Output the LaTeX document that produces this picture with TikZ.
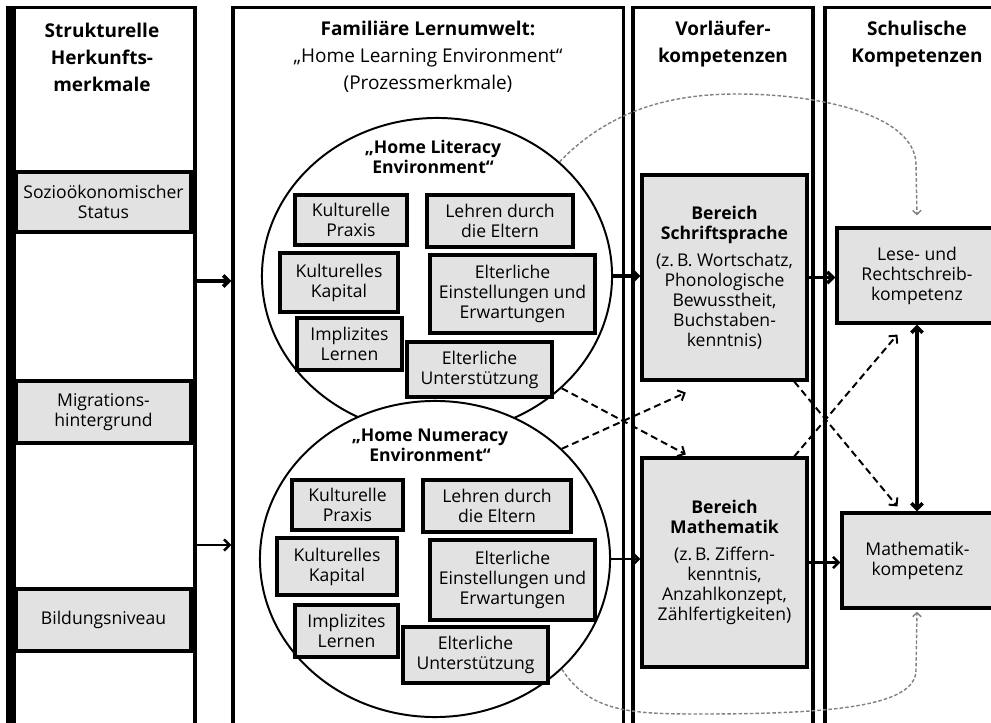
\documentclass[tikz,border=0pt]{standalone}
\usepackage{fontspec}
\setmainfont{Open Sans}
\usetikzlibrary{arrows.meta,shapes.geometric,calc}
\definecolor{boxgrey}{HTML}{E2E2E2}
\tikzset{
    column/.style={draw, line width=2.2pt, minimum width=#1, minimum height=18.3cm, inner sep=0pt},
    header/.style={align=center, font=\fontsize{13.5}{19.2}\selectfont},
    greybox/.style 2 args={draw, line width=2.2pt, fill=boxgrey, align=center, inner sep=0pt,
        minimum width=#1, minimum height=#2, font=\fontsize{12.5}{14.2}\selectfont},
    env/.style={draw, ellipse, line width=1.4pt, minimum width=8.75cm, minimum height=7.9cm, inner sep=0pt},
    envtitle/.style={align=center, font=\fontsize{12.5}{14.2}\selectfont\bfseries},
    mainarrow/.style={line width=2.6pt, -{Straight Barb[length=4pt,width=8pt]}},
    thinarrow/.style={line width=1.8pt, -{Straight Barb[length=4pt,width=8pt]}},
    crossarrow/.style={line width=1.4pt, dash pattern=on 5pt off 3pt, -{Straight Barb[length=4pt,width=8pt]}},
    linkarrow/.style={line width=1pt, gray, dash pattern=on 2.5pt off 1.5pt, -{Straight Barb[length=3pt,width=6pt]}}
}
\begin{document}
\begin{tikzpicture}[x=0.025cm, y=-0.025cm]
        \useasboundingbox (0,0) rectangle (991,722);
        \clip (0,0) rectangle (991,722);

        \node[column=4.675cm] (col1) at (101.5,374) {};
        \node[column=9.75cm] (col2) at (428,374) {};
        \node[column=4.5cm] (col3) at (723,374) {};
        \node[column=4.625cm] (col4) at (917.5,374) {};

        \node[header, font=\fontsize{13.5}{19.2}\selectfont\bfseries] (h1) at (102,57) {Strukturelle\\Herkunfts-\\merkmale};
        \node[header] (h2) at (428,57) {\textbf{Familiäre Lernumwelt:}\\„Home Learning Environment“\\(Prozessmerkmale)};
        \node[header, font=\fontsize{13.5}{19.2}\selectfont\bfseries] (h3) at (723,44) {Vorläufer-\\kompetenzen};
        \node[header, font=\fontsize{13.5}{19.2}\selectfont\bfseries] (h4) at (917,44) {Schulische\\Kompetenzen};

        \node[greybox={4.375cm}{1.5cm}] (sozio) at (103.5,202) {Sozioökonomischer\\Status};
        \node[greybox={4.375cm}{1.55cm}] (migration) at (103.5,412) {Migrations-\\hintergrund};
        \node[greybox={4.375cm}{1.55cm}] (bildung) at (103.5,620) {Bildungsniveau};
        \fill (6,8) rectangle (16,740);

        \node[env] (litenv) at (437,276) {};
        \node[env, fill=white] (numenv) at (435,559) {};
        \node[envtitle] (littitle) at (433,157) {„Home Literacy\\Environment“};
        \node[envtitle] (numtitle) at (430,445) {„Home Numeracy\\Environment“};

        \node[greybox={2.8cm}{1.25cm}] (lpraxis) at (351,220) {Kulturelle\\Praxis};
        \node[greybox={3.65cm}{1.3cm}] (llehren) at (500,221) {Lehren durch\\die Eltern};
        \node[greybox={2.95cm}{1.475cm}] (lkapital) at (339,282.5) {Kulturelles\\Kapital};
        \node[greybox={4.125cm}{1.95cm}] (leinst) at (512.5,294) {Elterliche\\Einstellungen und\\Erwartungen};
        \node[greybox={2.625cm}{1.3cm}] (llernen) at (349.5,344) {Implizites\\Lernen};
        \node[greybox={3.625cm}{1.375cm}] (lunterst) at (479.5,369.5) {Elterliche\\Unterstützung};

        \node[greybox={2.775cm}{1.25cm}] (npraxis) at (347.5,505) {Kulturelle\\Praxis};
        \node[greybox={3.7cm}{1.3cm}] (nlehren) at (497,506) {Lehren durch\\die Eltern};
        \node[greybox={3cm}{1.425cm}] (nkapital) at (337,566.5) {Kulturelles\\Kapital};
        \node[greybox={4.125cm}{2cm}] (neinst) at (512.5,580) {Elterliche\\Einstellungen und\\Erwartungen};
        \node[greybox={2.575cm}{1.3cm}] (nlernen) at (346.5,631) {Implizites\\Lernen};
        \node[greybox={3.625cm}{1.4cm}] (nunterst) at (475.5,655) {Elterliche\\Unterstützung};

        \node[greybox={4.125cm}{5.125cm}] (schrift) at (724.5,277.5) {\textbf{Bereich}\\\textbf{Schriftsprache}\\[5pt](z.\,B. Wortschatz,\\Phonologische\\Bewusstheit,\\Buchstaben-\\kenntnis)};
        \node[greybox={4.125cm}{5.225cm}] (mathe) at (724.5,562.5) {\textbf{Bereich}\\\textbf{Mathematik}\\[5pt](z.\,B. Ziffern-\\kenntnis,\\Anzahlkonzept,\\Zählfertigkeiten)};

        \node[greybox={4cm}{2.375cm}] (lese) at (917,275.5) {Lese- und\\Rechtschreib-\\kompetenz};
        \node[greybox={3.775cm}{2.375cm}] (mathkomp) at (917.5,560.5) {Mathematik-\\kompetenz};

        \coordinate (in1) at (0,281);
        \coordinate (in2) at (0,545);
        \draw[mainarrow] (col1.east |- in1) -- (col2.west |- in1);
        \draw[thinarrow] (col1.east |- in2) -- (col2.west |- in2);
        \draw[mainarrow] (litenv.east) -- (schrift.west |- litenv.east);
        \draw[thinarrow] (numenv.east) -- (mathe.west |- numenv.east);
        \draw[mainarrow] (schrift.east) -- (lese.west |- schrift.east);
        \draw[thinarrow] (mathe.east) -- (mathkomp.west |- mathe.east);
        \draw[mainarrow, {Straight Barb[length=4pt,width=8pt]}-{Straight Barb[length=4pt,width=8pt]}] (lese.south) -- (lese.south |- mathkomp.north);

        \draw[crossarrow] (litenv.-42) -- ($(mathe.north west)!0.27!(mathe.north east)+(0,-2)$);
        \draw[crossarrow] (numenv.41) -- ($(schrift.south west)!0.27!(schrift.south east)+(0,11)$);
        \draw[crossarrow] ($(schrift.south west)!0.915!(schrift.south east)$) -- ($(mathkomp.north west)!0.37!(mathkomp.north east)+(0,-5)$);
        \draw[crossarrow] ($(mathe.north west)!0.915!(mathe.north east)$) -- ($(lese.south west)!0.38!(lese.south east)+(0,10)$);

        \draw[linkarrow] (litenv.43) .. controls (610,110) and (670,94) .. (737,94) .. controls (820,94) and (916,115) .. (916,165) -- ($(lese.north)+(0,-11)$);
        \draw[linkarrow] (numenv.-41) .. controls (590,712) and (630,714) .. (700,714) .. controls (840,714) and (916,705) .. (916,670) -- ($(mathkomp.south)+(-0.5,2)$);

    \end{tikzpicture}
\end{document}
